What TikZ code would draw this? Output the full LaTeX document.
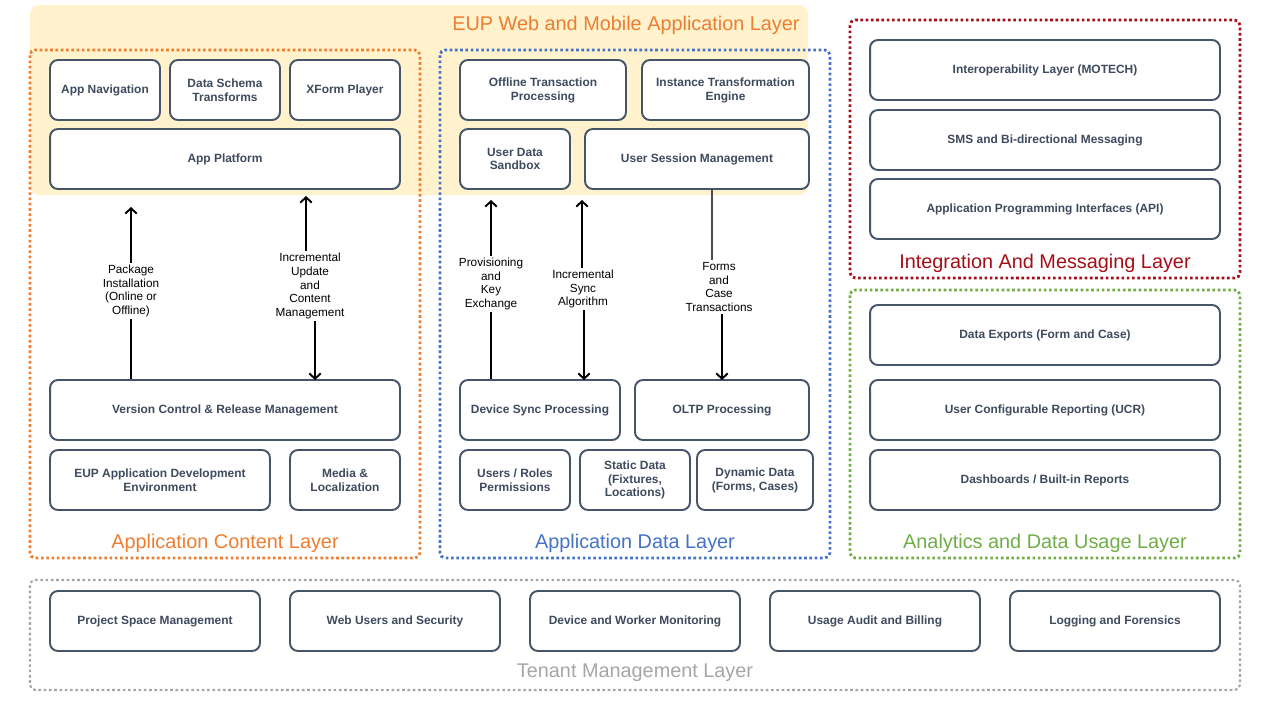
\documentclass[tikz,border=0pt]{standalone}
\usepackage{fontspec}
\setmainfont{Liberation Sans}
\usetikzlibrary{arrows.meta}

\definecolor{bandfill}{HTML}{FFF2CC}
\definecolor{contentc}{HTML}{ED7D31}
\definecolor{datac}{HTML}{4472C4}
\definecolor{integc}{HTML}{A50E16}
\definecolor{analytc}{HTML}{70AD47}
\definecolor{tenantc}{HTML}{A6A6A6}
\definecolor{boxline}{HTML}{465469}
\definecolor{boxtext}{HTML}{3E4A5E}

\begin{document}
\begin{tikzpicture}[x=0.02cm, y=-0.02cm, >={Straight Barb[length=3pt, width=6.5pt]},
	box/.style={draw=boxline, line width=1.1pt, rounded corners=4.5pt, fill=white, text=boxtext,
		font=\fontsize{6.8}{7.9}\selectfont\bfseries, align=center, minimum height=1.2cm, inner sep=1pt},
	dotbox/.style={line width=1.6pt, dash pattern=on 1.5pt off 1.5pt, rounded corners=3pt},
	layer/.style={font=\fontsize{11.3}{12}\selectfont, inner sep=0pt},
	lbl/.style={font=\fontsize{6.7}{7.9}\selectfont, align=center, inner sep=1pt, fill=white},
	flow/.style={line width=1.1pt}]
	\useasboundingbox (0,0) rectangle (1265,710);
	
	% web and mobile band
	\fill[bandfill, rounded corners=5pt] (30,5) rectangle (808,195);
	\node[layer, text=contentc] (web) at (626,25) {EUP Web and Mobile Application Layer};
	
	% layer frames
	\draw[dotbox, contentc] (30,50) rectangle (420,558);
	\draw[dotbox, datac] (440,50) rectangle (830,558);
	\draw[dotbox, integc] (850,20) rectangle (1240,278);
	\draw[dotbox, analytc] (850,290) rectangle (1240,558);
	\draw[dotbox, tenantc, line width=1.2pt] (30,580) rectangle (1240,690);
	\node[layer, text=contentc] (contl) at (225,543) {Application Content Layer};
	\node[layer, text=datac] (datal) at (635,543) {Application Data Layer};
	\node[layer, text=integc] (integl) at (1045,263) {Integration And Messaging Layer};
	\node[layer, text=analytc] (analyl) at (1045,543) {Analytics and Data Usage Layer};
	\node[layer, text=tenantc] (tenl) at (635,673) {Tenant Management Layer};
	
	% application content layer
	\node[box, minimum width=2.2cm] (nav) at (105,90) {App Navigation};
	\node[box, minimum width=2.2cm] (schema) at (225,90) {Data Schema\\Transforms};
	\node[box, minimum width=2.2cm] (xform) at (345,90) {XForm Player};
	\node[box, minimum width=7cm] (platform) at (225,159) {App Platform};
	\node[box, minimum width=7cm] (vc) at (225,410) {Version Control \& Release Management};
	\node[box, minimum width=4.4cm] (eupdev) at (160,480) {EUP Application Development\\Environment};
	\node[box, minimum width=2.2cm] (media) at (345,480) {Media \&\\Localization};
	
	% application data layer
	\node[box, minimum width=3.32cm] (offline) at (543,90) {Offline Transaction\\Processing};
	\node[box, minimum width=3.34cm] (instance) at (725.5,90) {Instance Transformation\\Engine};
	\node[box, minimum width=2.2cm] (sandbox) at (515,159) {User Data\\Sandbox};
	\node[box, minimum width=4.48cm] (usm) at (697,159) {User Session Management};
	\node[box, minimum width=3.2cm] (dsp) at (540,410) {Device Sync Processing};
	\node[box, minimum width=3.48cm] (oltp) at (722,410) {OLTP Processing};
	\node[box, minimum width=2.2cm] (users) at (515,480) {Users / Roles\\Permissions};
	\node[box, minimum width=2.2cm] (static) at (635,480) {Static Data\\(Fixtures,\\Locations)};
	\node[box, minimum width=2.32cm] (dynamic) at (755,480) {Dynamic Data\\(Forms, Cases)};
	
	% integration and analytics
	\node[box, minimum width=7cm] (motech) at (1045,70) {Interoperability Layer (MOTECH)};
	\node[box, minimum width=7cm] (sms) at (1045,140) {SMS and Bi-directional Messaging};
	\node[box, minimum width=7cm] (api) at (1045,209) {Application Programming Interfaces (API)};
	\node[box, minimum width=7cm] (exports) at (1045,335) {Data Exports (Form and Case)};
	\node[box, minimum width=7cm] (ucr) at (1045,410) {User Configurable Reporting (UCR)};
	\node[box, minimum width=7cm] (dash) at (1045,480) {Dashboards / Built-in Reports};
	
	% tenant management
	\node[box, minimum width=4.2cm] (psm) at (155,621) {Project Space Management};
	\node[box, minimum width=4.2cm] (wus) at (395,621) {Web Users and Security};
	\node[box, minimum width=4.2cm] (dwm) at (635,621) {Device and Worker Monitoring};
	\node[box, minimum width=4.2cm] (uab) at (875,621) {Usage Audit and Billing};
	\node[box, minimum width=4.2cm] (laf) at (1115,621) {Logging and Forensics};
	
	% flow labels and their ends
	\node[lbl] (pkg) at (131,291) {Package\\Installation\\(Online or\\Offline)};
	\node[lbl] (upd) at (310,286) {Incremental\\Update\\and\\Content\\Management};
	\node[lbl] (prov) at (491,284) {Provisioning\\and\\Key\\Exchange};
	\node[lbl] (isync) at (583,289) {Incremental\\Sync\\Algorithm};
	\node[lbl] (forms) at (719,287) {Forms\\and\\Case\\Transactions};
	\coordinate (pkgtop) at (131,207);
	\coordinate (updtop) at (306,196);
	\coordinate (updbot) at (315,380);
	\coordinate (provtop) at (491,200);
	\coordinate (isynctop) at (582,200);
	\coordinate (isyncbot) at (584,380);
	\coordinate (formstop) at (712,0);
	\coordinate (formsbot) at (722,380);
	
	\draw[flow] (vc.north -| pkgtop) -- (pkg.south -| pkgtop);
	\draw[flow, ->] (pkg.north -| pkgtop) -- (pkgtop);
	\draw[flow, ->] (upd.north -| updtop) -- (updtop);
	\draw[flow, ->] (upd.south -| updbot) -- (updbot);
	\draw[flow] (dsp.north -| provtop) -- (prov.south -| provtop);
	\draw[flow, ->] (prov.north -| provtop) -- (provtop);
	\draw[flow, ->] (isync.north -| isynctop) -- (isynctop);
	\draw[flow, ->] (isync.south -| isyncbot) -- (isyncbot);
	\draw[line width=1.6pt, black!70] (usm.south -| formstop) -- (forms.north -| formstop);
	\draw[flow, ->] (forms.south -| formsbot) -- (formsbot);
\end{tikzpicture}
\end{document}
